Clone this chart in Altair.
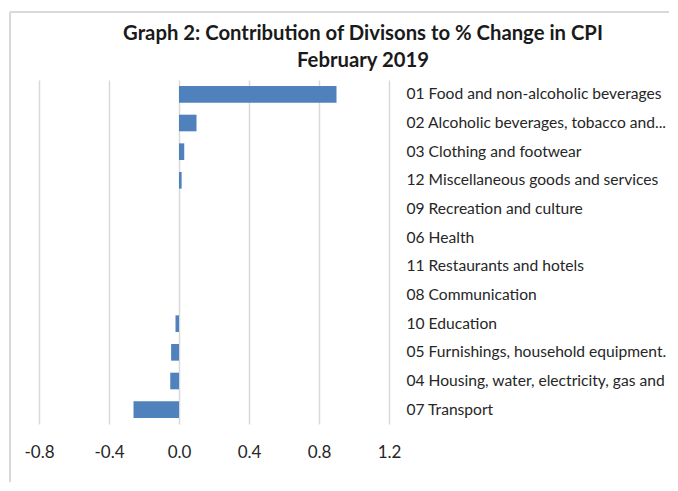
import altair as alt
import pandas as pd

categories = [
    "01 Food and non-alcoholic beverages",
    "02 Alcoholic beverages, tobacco and...",
    "03 Clothing and footwear",
    "12 Miscellaneous goods and services",
    "09 Recreation and culture",
    "06 Health",
    "11 Restaurants and hotels",
    "08 Communication",
    "10 Education",
    "05 Furnishings, household equipment.",
    "04 Housing, water, electricity, gas and",
    "07 Transport",
]
values = [0.90, 0.10, 0.03, 0.015, 0.0, 0.0, 0.0, 0.0, -0.02, -0.045, -0.05, -0.26]
x_ticks = [-0.8, -0.4, 0.0, 0.4, 0.8, 1.2]

df = pd.DataFrame({"division": categories, "contribution": values})

FONT = "Lato"

bars = alt.Chart(df).mark_bar(color="#4f81bd").encode(
    x=alt.X(
        "contribution:Q",
        scale=alt.Scale(domain=[-0.8, 1.2], nice=False, zero=False),
        axis=alt.Axis(
            values=x_ticks, format=".1f", title=None, domain=False, ticks=False,
            grid=True, gridColor="#d9d9d9", gridWidth=1.5,
            labelFont=FONT, labelFontSize=17, labelColor="#262626",
            labelPadding=20, labelFlush=False,
            labelExpr="replace(datum.label, '\u2212', '-')",
        ),
    ),
    y=alt.Y(
        "division:N",
        sort=categories,
        scale=alt.Scale(paddingInner=0.42, paddingOuter=0.21),
        axis=alt.Axis(
            orient="right", title=None, domain=False, ticks=False, grid=False,
            labelFont=FONT, labelFontSize=15.6, labelColor="#262626",
            labelAlign="left", labelPadding=17, labelLimit=300,
        ),
    ),
)

frame_left = alt.Chart(df).mark_rule(color="#d9d9d9", strokeWidth=1.5).encode(
    x=alt.value(-29), y=alt.value(-68), y2=alt.value(420)
)
frame_top = alt.Chart(df).mark_rule(color="#d9d9d9", strokeWidth=1.5).encode(
    x=alt.value(-29), x2=alt.value(650), y=alt.value(-68)
)

chart = alt.layer(frame_left, frame_top, bars).properties(
    width=350,
    height=344,
    padding={"left": 31, "top": 72, "right": 280, "bottom": 58},
    autosize=alt.AutoSizeParams(type="none"),
    title=alt.TitleParams(
        text=["Graph 2: Contribution of Divisons to % Change in CPI", "February 2019"],
        font=FONT, fontSize=20.3, fontWeight="bold", color="#1a1a1a",
        anchor="middle", dx=149, dy=74, offset=14, lineHeight=27,
    ),
).configure_view(stroke=None)

chart.save("out.html", embed_options={"renderer": "svg", "actions": False})
